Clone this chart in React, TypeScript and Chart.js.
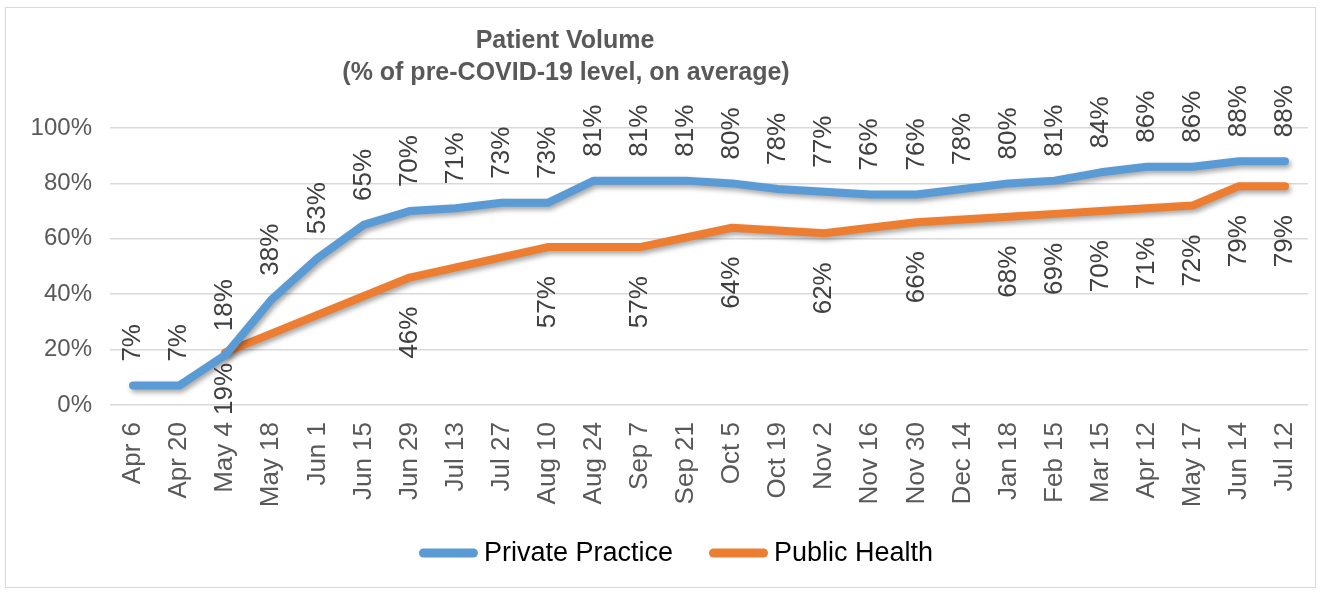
import React, { useEffect, useRef } from "react";
import { Chart, registerables } from "chart.js";

Chart.register(...registerables);

const categories = [
  "Apr 6", "Apr 20", "May 4", "May 18", "Jun 1", "Jun 15", "Jun 29", "Jul 13", "Jul 27",
  "Aug 10", "Aug 24", "Sep 7", "Sep 21", "Oct 5", "Oct 19", "Nov 2", "Nov 16", "Nov 30",
  "Dec 14", "Jan 18", "Feb 15", "Mar 15", "Apr 12", "May 17", "Jun 14", "Jul 12",
];
const privatePractice = [
  7, 7, 18, 38, 53, 65, 70, 71, 73, 73, 81, 81, 81, 80, 78, 77, 76, 76, 78, 80, 81, 84, 86, 86, 88, 88,
];
const publicHealth = [
  null, null, 19, null, null, null, 46, null, null, 57, null, 57, null, 64, null, 62, null, 66,
  null, 68, 69, 70, 71, 72, 79, 79,
];
const yTickValues = [0, 20, 40, 60, 80, 100];
const seriesNames = ["Private Practice", "Public Health"];
const seriesColors = ["#5B9BD5", "#ED7D31"];
const titleLines = ["Patient Volume", "(% of pre-COVID-19 level, on average)"];

const FONT = "'Liberation Sans', Arial, Helvetica, sans-serif";

const decorPlugin = {
  id: "decor",
  beforeDraw(chart: any) {
    const ctx = chart.ctx;
    ctx.save();
    ctx.fillStyle = "#ffffff";
    ctx.fillRect(0, 0, chart.width, chart.height);
    ctx.strokeStyle = "#d9d9d9";
    ctx.lineWidth = 1;
    ctx.strokeRect(5.5, 7.5, 1310, 580);
    ctx.restore();
  },
  afterDraw(chart: any) {
    const ctx = chart.ctx;
    ctx.save();
    // title
    ctx.fillStyle = "#595959";
    ctx.font = `bold 25px ${FONT}`;
    ctx.textAlign = "center";
    ctx.textBaseline = "middle";
    ctx.fillText(titleLines[0], 565, 41);
    ctx.fillText(titleLines[1], 566, 73);
    // legend
    ctx.font = `27px ${FONT}`;
    const boxW = 59;
    const gap = 6;
    const itemGap = 36;
    const widths = chart.data.datasets.map((ds: any) => ctx.measureText(ds.label).width);
    let total = 0;
    widths.forEach((w: number, i: number) => {
      total += boxW + gap + w + (i > 0 ? itemGap : 0);
    });
    let x = 676 - total / 2;
    const cy = 553;
    chart.data.datasets.forEach((ds: any, i: number) => {
      ctx.strokeStyle = ds.borderColor;
      ctx.lineWidth = 9;
      ctx.lineCap = "round";
      ctx.beginPath();
      ctx.moveTo(x + 4.5, cy);
      ctx.lineTo(x + boxW - 4.5, cy);
      ctx.stroke();
      ctx.fillStyle = "#000000";
      ctx.textAlign = "left";
      ctx.fillText(ds.label, x + boxW + gap, cy + 1);
      x += boxW + gap + widths[i] + itemGap;
    });
    ctx.restore();
  },
};

const shadowPlugin = {
  id: "lineShadow",
  beforeDatasetDraw(chart: any) {
    const ctx = chart.ctx;
    ctx.save();
    ctx.shadowColor = "rgba(0,0,0,0.35)";
    ctx.shadowBlur = 5;
    ctx.shadowOffsetX = 2;
    ctx.shadowOffsetY = 3;
  },
  afterDatasetDraw(chart: any) {
    chart.ctx.restore();
  },
};

const labelPlugin = {
  id: "pointLabels",
  afterDatasetsDraw(chart: any) {
    const ctx = chart.ctx;
    const area = chart.chartArea;
    chart.data.datasets.forEach((ds: any, di: number) => {
      const meta = chart.getDatasetMeta(di);
      meta.data.forEach((pt: any, i: number) => {
        const v = ds.data[i];
        if (v === null || v === undefined) return;
        const text = `${v}%`;
        ctx.save();
        ctx.font = `26px ${FONT}`;
        ctx.fillStyle = "#404040";
        ctx.textBaseline = "middle";
        const w = ctx.measureText(text).width;
        ctx.translate(pt.x, pt.y);
        ctx.rotate(-Math.PI / 2);
        if (di === 0) {
          ctx.textAlign = "left";
          ctx.fillText(text, 24, 0);
        } else {
          let off = 29;
          const maxOff = area.bottom + 10 - pt.y - w;
          if (off > maxOff) off = maxOff;
          ctx.textAlign = "right";
          ctx.fillText(text, -off, 0);
        }
        ctx.restore();
      });
    });
  },
};

export default function App() {
  const canvasRef = useRef<HTMLCanvasElement | null>(null);

  useEffect(() => {
    const canvas = canvasRef.current;
    if (!canvas) return;
    Chart.defaults.font.family = FONT;
    const chart = new Chart(canvas, {
      type: "line",
      data: {
        labels: categories,
        datasets: [
          {
            label: seriesNames[0],
            data: privatePractice,
            borderColor: seriesColors[0],
            backgroundColor: seriesColors[0],
            borderWidth: 8,
            borderCapStyle: "round",
            borderJoinStyle: "round",
            pointRadius: 0,
            pointHoverRadius: 0,
            tension: 0,
            fill: false,
          },
          {
            label: seriesNames[1],
            data: publicHealth,
            borderColor: seriesColors[1],
            backgroundColor: seriesColors[1],
            borderWidth: 8,
            borderCapStyle: "round",
            borderJoinStyle: "round",
            pointRadius: 0,
            pointHoverRadius: 0,
            tension: 0,
            spanGaps: true,
            fill: false,
          },
        ],
      },
      options: {
        responsive: false,
        animation: false,
        devicePixelRatio: 1,
        layout: { padding: { top: 128, right: 13, bottom: 88, left: 0 } },
        plugins: {
          legend: { display: false },
          title: { display: false },
          tooltip: { enabled: false },
        },
        events: [],
        scales: {
          x: {
            offset: true,
            grid: { display: false, drawTicks: false },
            border: { display: false },
            ticks: {
              autoSkip: false,
              minRotation: 90,
              maxRotation: 90,
              padding: 17,
              color: "#595959",
              font: { size: 26, family: FONT },
            },
            afterFit(scale: any) {
              scale.height = 100;
              scale.paddingLeft = 0;
              scale.paddingRight = 0;
            },
          },
          y: {
            min: 0,
            max: 100,
            afterBuildTicks(scale: any) {
              scale.ticks = yTickValues.map((v) => ({ value: v }));
            },
            grid: { color: "#d9d9d9", lineWidth: 1.5, drawTicks: false },
            border: { display: false },
            ticks: {
              padding: 18,
              color: "#595959",
              font: { size: 24, family: FONT },
              callback: (v: any) => `${v}%`,
            },
            afterFit(scale: any) {
              scale.width = 110;
              scale.paddingTop = 0;
              scale.paddingBottom = 0;
            },
          },
        },
      },
      plugins: [decorPlugin, shadowPlugin, labelPlugin],
    } as any);
    return () => chart.destroy();
  }, []);

  return (
    <div style={{ position: "absolute", left: 0, top: 0, width: 1321, height: 593 }}>
      <canvas ref={canvasRef} width={1321} height={593} style={{ width: 1321, height: 593 }} />
    </div>
  );
}
